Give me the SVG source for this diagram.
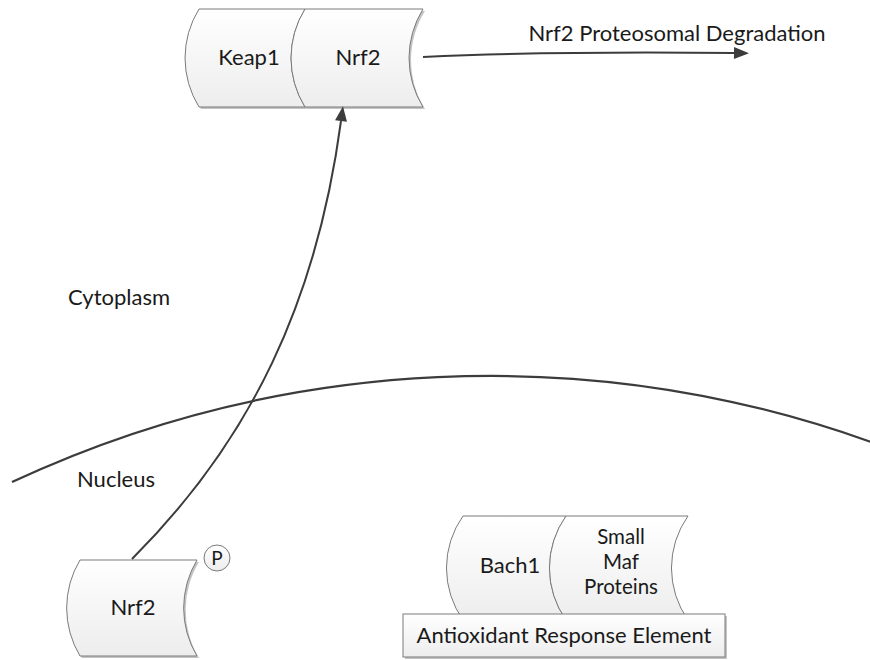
<svg xmlns="http://www.w3.org/2000/svg" width="870" height="660" viewBox="0 0 870 660">
  <style>
    text { font-family: Lato, "Open Sans", "Liberation Sans", sans-serif; font-size: 22px; fill: #1a1a1a; text-anchor: middle; }
    .stack { font-size: 20.5px; }
    .shape { fill: url(#shade); stroke: #7a7a7a; stroke-width: 1; }
    .shadow { fill: #c4c4c4; stroke: none; }
    .wire { fill: none; stroke: #3c3c3c; stroke-width: 2; }
    .membrane { fill: none; stroke: #3c3c3c; stroke-width: 2.2; }
  </style>
  <defs>
    <linearGradient id="shade" x1="0" y1="0" x2="0" y2="1">
      <stop offset="0" stop-color="#ffffff"/>
      <stop offset="1" stop-color="#ededed"/>
    </linearGradient>
    <marker id="head" markerUnits="userSpaceOnUse" markerWidth="16" markerHeight="14" refX="0" refY="7" orient="auto" overflow="visible">
      <path d="M0,1 L15,7 L0,13 Z" fill="#3c3c3c"/>
    </marker>
  </defs>

  <rect width="870" height="660" fill="#ffffff"/>

  <!-- nuclear envelope -->
  <path class="membrane" d="M12,482 A1131 1131 0 0 1 871,442"/>

  <!-- compartment labels -->
  <g id="label-cytoplasm"><text x="119" y="305">Cytoplasm</text></g>
  <g id="label-nucleus"><text x="116" y="487">Nucleus</text></g>

  <!-- Keap1 / Nrf2 complex -->
  <g id="keap1">
    <path class="shadow" d="M201,11 L307,11 A93 93 0 0 0 307,109 L201,109 A93 93 0 0 1 201,11 Z"/>
    <path class="shape" d="M199,9 L305,9 A93 93 0 0 0 305,107 L199,107 A93 93 0 0 1 199,9 Z"/>
    <text x="249" y="65">Keap1</text>
  </g>
  <g id="nrf2-bound">
    <path class="shadow" d="M307,11 L425,11 A93 93 0 0 0 425,109 L307,109 A93 93 0 0 1 307,11 Z"/>
    <path class="shape" d="M305,9 L423,9 A93 93 0 0 0 423,107 L305,107 A93 93 0 0 1 305,9 Z"/>
    <text x="358" y="65">Nrf2</text>
  </g>

  <!-- phosphorylated Nrf2 in the nucleus -->
  <g id="nrf2-p">
    <path class="shadow" d="M82,562 L199,562 A93 93 0 0 0 199,658 L82,658 A93 93 0 0 1 82,562 Z"/>
    <path class="shape" d="M80,560 L197,560 A93 93 0 0 0 197,656 L80,656 A93 93 0 0 1 80,560 Z"/>
    <text x="133" y="615">Nrf2</text>
    <circle cx="217" cy="558" r="13" fill="url(#shade)" stroke="#7a7a7a" stroke-width="1"/>
    <text x="217" y="565" style="font-size:19px">P</text>
  </g>

  <!-- Bach1 / small Maf complex on the ARE -->
  <g id="bach1">
    <path class="shape" d="M463,516 L566,516 A90 90 0 0 0 566,620 L463,620 A90 90 0 0 1 463,516 Z"/>
    <text x="510" y="573">Bach1</text>
  </g>
  <g id="small-maf">
    <path class="shape" d="M566,516 L688,516 A90 90 0 0 0 688,620 L566,620 A90 90 0 0 1 566,516 Z"/>
    <text class="stack" x="621" y="544">Small</text>
    <text class="stack" x="621" y="569">Maf</text>
    <text class="stack" x="621" y="594">Proteins</text>
  </g>
  <g id="are">
    <rect class="shadow" x="405" y="616" width="322" height="43"/>
    <rect class="shape" x="403" y="614" width="322" height="43"/>
    <text x="564" y="643">Antioxidant Response Element</text>
  </g>

  <!-- degradation label -->
  <g id="label-degradation"><text x="677" y="41">Nrf2 Proteosomal Degradation</text></g>

  <!-- connectors -->
  <g id="connectors">
    <path class="wire" d="M132,559 C252,439 317,300 341,121" marker-end="url(#head)"/>
    <path class="wire" d="M423,57 C530,52 640,52 734,53" marker-end="url(#head)"/>
  </g>
</svg>
